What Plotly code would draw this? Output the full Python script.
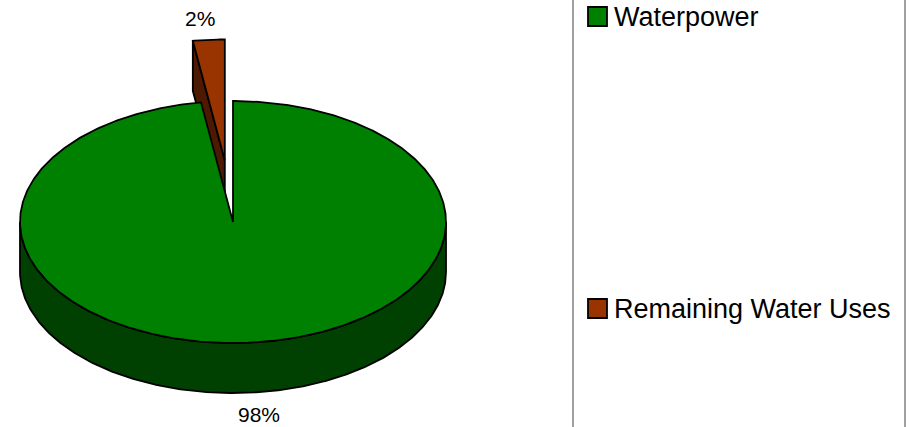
import numpy as np
import plotly.graph_objects as go

# ---- data ----
categories = ["Waterpower", "Remaining Water Uses"]
values = [97.6, 2.4]
top_colors = ["#008000", "#993300"]
side_colors = ["#004000", "#4d1900"]
explode = [0.0, 0.51]

# ---- layout / geometry constants ----
W, H = 915, 427
cx, cy, rx, ry, depth = 233, 222, 213, 121, 50
start_angle = 90.0
FONT = "Liberation Sans, Arial, sans-serif"
LINE = dict(color="black", width=1.8)

total = float(sum(values))
fig = go.Figure()


def arc(a, b, off, dz=0.0, r=1.0):
    n = max(2, int(abs(b - a) * 2) + 2)
    t = np.radians(np.linspace(a, b, n))
    return (cx + off[0] + rx * r * np.cos(t), cy + off[1] - ry * r * np.sin(t) + dz)


def poly(xs, ys, color):
    fig.add_trace(go.Scatter(x=list(xs), y=list(ys), mode="lines", fill="toself",
                             fillcolor=color, line=LINE, hoverinfo="skip",
                             showlegend=False))


slices = []
cum = 0.0
for i, v in enumerate(values):
    hi = start_angle - cum / total * 360.0
    lo = hi - v / total * 360.0
    cum += v
    b = np.radians((lo + hi) / 2)
    off = (rx * explode[i] * np.cos(b), -ry * explode[i] * np.sin(b))
    slices.append(dict(i=i, lo=lo, hi=hi, bis=b, off=off))

# paint far slices first
for s in sorted(slices, key=lambda s: -np.sin(s["bis"])):
    i, lo, hi, off = s["i"], s["lo"], s["hi"], s["off"]
    ccx, ccy = cx + off[0], cy + off[1]
    # radial side faces
    for phi, visible in ((lo, np.cos(np.radians(lo)) > 1e-9),
                         (hi, np.cos(np.radians(hi)) < -1e-9)):
        if visible:
            t = np.radians(phi)
            px, py = ccx + rx * np.cos(t), ccy - ry * np.sin(t)
            poly([ccx, px, px, ccx, ccx], [ccy, py, py + depth, ccy + depth, ccy],
                 side_colors[i])
    # outer (front) side
    for k in range(-2, 2):
        a = max(lo, -180 + 360 * k)
        c = min(hi, 360 * k)
        if c - a > 1e-6:
            tx, ty = arc(a, c, off)
            bx, by = arc(c, a, off, dz=depth)
            poly(np.concatenate([tx, bx, tx[:1]]), np.concatenate([ty, by, ty[:1]]),
                 side_colors[i])
    # top face
    tx, ty = arc(hi, lo, off)
    poly(np.concatenate([[ccx], tx, [ccx]]), np.concatenate([[ccy], ty, [ccy]]),
         top_colors[i])

# percentage labels
label_dx = [7, -6]
for s in slices:
    i = s["i"]
    b = s["bis"]
    k = 1.18 + explode[i]
    lx = cx + rx * k * np.cos(b) + label_dx[i]
    ly = cy - ry * k * np.sin(b) + (depth if np.sin(b) < 0 else 0)
    fig.add_annotation(x=lx, y=ly, text=f"{round(100 * values[i] / total)}%",
                       showarrow=False, xanchor="center", yanchor="middle",
                       font=dict(family=FONT, size=21, color="black"))

# legend (manual)
legend_box = dict(x0=573, x1=905, y0=-5, y1=H + 5)
legend_y = [16.5, 308.5]
fig.add_shape(type="rect", xref="x", yref="y", **legend_box,
              line=dict(color="#404040", width=1), fillcolor="rgba(0,0,0,0)", layer="below")
for i, cat in enumerate(categories):
    yc = legend_y[i]
    fig.add_shape(type="rect", xref="x", yref="y", x0=588, x1=607, y0=yc - 9.5, y1=yc + 9.5,
                  fillcolor=top_colors[i], line=dict(color="black", width=1.8))
    fig.add_annotation(x=612, y=yc, text=cat, showarrow=False, xanchor="left",
                       yanchor="middle", font=dict(family=FONT, size=27, color="black"))

fig.update_layout(
    width=W, height=H, margin=dict(l=0, r=0, t=0, b=0),
    paper_bgcolor="white", plot_bgcolor="white", showlegend=False,
    xaxis=dict(range=[0, W], visible=False, fixedrange=True),
    yaxis=dict(range=[H, 0], visible=False, fixedrange=True),
)
fig.write_html("out.html", config={"displayModeBar": False},
               post_script="document.body.style.margin='0';document.body.style.overflow='hidden';")
